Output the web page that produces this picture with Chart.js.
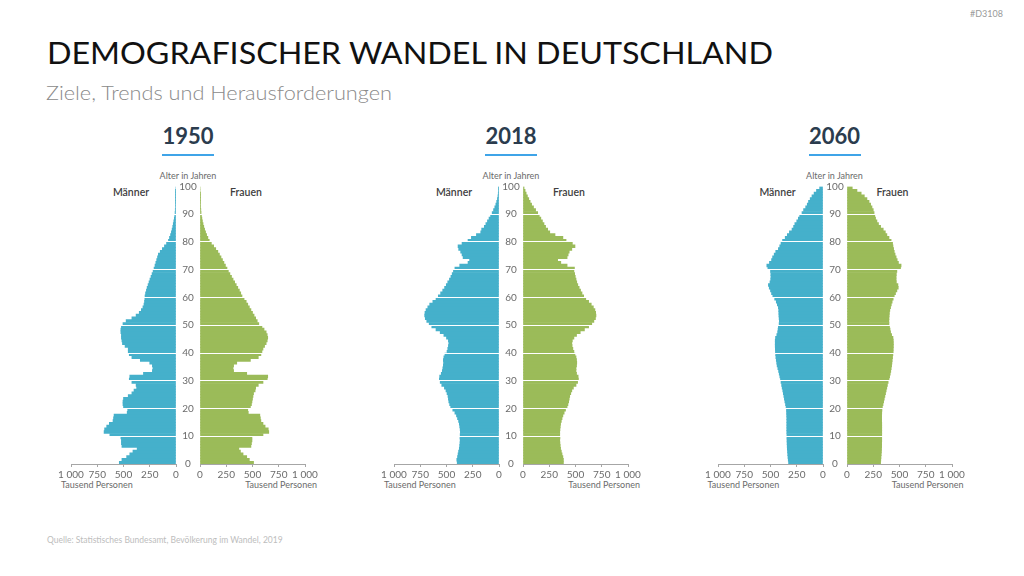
<!DOCTYPE html>
<html lang="de">
<head>
<meta charset="utf-8">
<title>Demografischer Wandel in Deutschland</title>
<script src="https://cdn.jsdelivr.net/npm/chart.js"></script>
<style>
  html, body { margin: 0; padding: 0; background: #fff; }
  #page { position: relative; width: 1024px; height: 576px; overflow: hidden; font-family: Lato, "Open Sans", sans-serif; }
  .abs { position: absolute; white-space: nowrap; line-height: 1; }
  #code { right: 21px; top: 8.7px; font-size: 9px; color: #9a9a9a; }
  #title { left: 47px; top: 36.8px; font-size: 31px; color: #111; transform-origin: left top; }
  #subtitle { left: 46px; top: 81.6px; font-size: 20px; color: #8a8a8a; font-weight: 300; transform-origin: left top; }
  #source { left: 47px; top: 535.5px; font-size: 8.5px; color: #bdbdbd; }
  .year { width: 100px; text-align: center; font-size: 22px; font-weight: 700; color: #2b3c4e; top: 124.5px; }
  .rule { width: 52px; height: 2px; top: 154px; background: #3fa4e8; }
  .age { width: 80px; text-align: center; font-size: 9px; color: #6b6b6b; top: 171px; }
  .sex { width: 60px; text-align: center; font-size: 10.5px; font-weight: 600; color: #404040; top: 186.7px; }
  .unit { font-size: 9px; color: #6b6b6b; top: 480px; }
  canvas { position: absolute; }
</style>
</head>
<body>
<div id="page">
  <div id="code" class="abs">#D3108</div>
  <div id="title" class="abs">DEMOGRAFISCHER WANDEL IN DEUTSCHLAND</div>
  <div id="subtitle" class="abs">Ziele, Trends und Herausforderungen</div>
  <div id="source" class="abs">Quelle: Statistisches Bundesamt, Bevölkerung im Wandel, 2019</div>
</div>
<script>
// Bevölkerung nach Alter (0..99), Tausend Personen
const ages = Array.from({ length: 100 }, (_, i) => i);
const ageTicks = [0, 10, 20, 30, 40, 50, 60, 70, 80, 90, 100];
const xTicks = [0, 250, 500, 750, 1000];
const years = ["1950", "2018", "2060"];

const men1950 = [
  540, 515, 470, 440, 410, 370, 515, 520, 520, 525,
  630, 685, 680, 660, 635, 600, 595, 590, 465, 460,
  500, 505, 505, 500, 455, 420, 400, 375, 380, 420,
  445, 440, 310, 225, 220, 225, 250, 340, 420, 445,
  455, 455, 485, 510, 515, 520, 520, 525, 525, 520,
  505, 475, 420, 380, 350, 330, 315, 305, 300, 297,
  295, 290, 282, 275, 266, 257, 248, 238, 228, 218,
  209, 200, 192, 184, 176, 168, 150, 130, 110, 90,
  72, 62, 52, 44, 37, 31, 26, 21, 16, 12,
  9, 7, 5, 4, 3, 2, 1, 1, 1, 0,
];
const women1950 = [
  510, 470, 445, 410, 385, 370, 485, 490, 495, 495,
  600, 655, 650, 620, 600, 580, 575, 570, 460, 455,
  480, 490, 495, 500, 505, 510, 525, 530, 555, 600,
  640, 645, 445, 320, 315, 320, 350, 480, 555, 580,
  590, 600, 615, 630, 640, 645, 640, 630, 610, 590,
  560, 545, 530, 515, 500, 485, 470, 455, 440, 420,
  400, 388, 375, 360, 345, 330, 315, 300, 285, 270,
  257, 242, 228, 214, 200, 185, 170, 150, 130, 108,
  88, 75, 63, 53, 44, 36, 29, 23, 18, 14,
  10, 8, 6, 4, 3, 2, 1, 1, 0, 0,
];
const men2018 = [
  398, 402, 395, 390, 385, 378, 375, 372, 370, 372,
  370, 368, 370, 374, 378, 385, 395, 405, 420, 440,
  460, 470, 478, 482, 486, 495, 505, 520, 545, 560,
  568, 565, 550, 540, 535, 530, 528, 530, 525, 515,
  495, 488, 482, 478, 482, 500, 525, 560, 600, 640,
  665, 688, 702, 708, 705, 695, 678, 660, 630, 600,
  578, 556, 536, 518, 502, 488, 472, 458, 446, 434,
  420, 374, 295, 280, 342, 352, 365, 384, 390, 352,
  295, 263, 215, 174, 165, 140, 125, 110, 95, 80,
  65, 52, 40, 30, 22, 15, 10, 7, 4, 2,
];
const women2018 = [
  385, 385, 380, 372, 365, 358, 355, 352, 350, 352,
  350, 350, 352, 355, 358, 365, 372, 380, 392, 405,
  420, 428, 435, 440, 445, 455, 465, 480, 505, 520,
  528, 525, 510, 505, 505, 510, 512, 510, 505, 495,
  485, 475, 468, 465, 470, 485, 510, 545, 585, 625,
  655, 675, 690, 695, 692, 685, 670, 650, 625, 598,
  578, 562, 548, 535, 522, 512, 505, 498, 492, 485,
  490, 420, 360, 330, 420, 430, 440, 465, 495, 470,
  410, 380, 305, 255, 235, 215, 200, 185, 170, 155,
  140, 120, 100, 82, 68, 55, 42, 30, 20, 10,
];
const men2060 = [
  328, 331, 334, 336, 338, 340, 341, 342, 343, 344,
  344, 345, 345, 345, 345, 345, 345, 346, 347, 348,
  352, 357, 363, 368, 373, 378, 383, 389, 394, 400,
  405, 411, 417, 423, 430, 437, 441, 445, 449, 451,
  453, 454, 455, 455, 455, 452, 440, 432, 428, 425,
  418, 416, 418, 420, 421, 422, 425, 435, 445, 460,
  478, 490, 500, 512, 520, 505, 498, 496, 497, 500,
  525, 535, 510, 490, 480, 465, 450, 425, 412, 400,
  385, 360, 340, 320, 295, 280, 268, 250, 235, 222,
  200, 185, 165, 150, 138, 122, 105, 85, 62, 32,
];
const women2060 = [
  320, 322, 324, 326, 328, 329, 330, 330, 331, 331,
  331, 331, 331, 331, 331, 330, 330, 330, 331, 333,
  337, 343, 349, 355, 361, 367, 373, 379, 385, 392,
  400, 406, 412, 417, 421, 425, 428, 431, 434, 437,
  440, 441, 442, 442, 441, 438, 425, 415, 410, 405,
  400, 399, 400, 402, 404, 408, 415, 422, 430, 440,
  450, 462, 475, 488, 485, 470, 468, 468, 470, 475,
  510, 515, 490, 478, 468, 458, 450, 444, 438, 434,
  420, 400, 380, 365, 345, 320, 300, 285, 272, 265,
  258, 250, 238, 225, 210, 190, 165, 135, 95, 50,
];

const MEN_COLOR = "#45b0cb";
const WOMEN_COLOR = "#9bbb59";
const AXIS_COLOR = "#a6a6a6";
const TICK_COLOR = "#6b6b6b";

// layout: gap centre of each pyramid, chart area from y 186.5 (100) to 464 (0)
const centres = [188, 511, 834.5];
const CANVAS_TOP = 176;
const CANVAS_H = 306;

Chart.defaults.font.family = "Lato, 'Open Sans', sans-serif";
Chart.defaults.font.size = 10;

const page = document.getElementById("page");

function addDiv(cls, text, left) {
  const d = document.createElement("div");
  d.className = "abs " + cls;
  d.textContent = text;
  d.style.left = left + "px";
  page.appendChild(d);
  return d;
}

function addCanvas(left, width) {
  const c = document.createElement("canvas");
  c.width = width;
  c.height = CANVAS_H;
  c.style.left = left + "px";
  c.style.top = CANVAS_TOP + "px";
  c.style.width = width + "px";
  c.style.height = CANVAS_H + "px";
  page.appendChild(c);
  return c;
}

function measure(text) {
  const ctx = document.createElement("canvas").getContext("2d");
  ctx.font = "10px Lato, 'Open Sans', sans-serif";
  return ctx.measureText(text).width;
}
const agePad = 12 - measure("100") / 2;

function halfChart(canvas, values, isMen) {
  return new Chart(canvas.getContext("2d"), {
    type: "bar",
    data: {
      datasets: [
        {
          data: values.map((v, i) => ({ x: v, y: ages[i] + 0.5 })),
          backgroundColor: isMen ? MEN_COLOR : WOMEN_COLOR,
          borderWidth: 0,
          categoryPercentage: 1,
          barPercentage: 1,
        },
      ],
    },
    options: {
      indexAxis: "y",
      responsive: false,
      animation: false,
      events: [],
      layout: {
        padding: isMen
          ? { left: 20, right: 5, top: 10.5, bottom: 0 }
          : { left: 0, right: 16, top: 10.5, bottom: 0 },
      },
      plugins: { legend: { display: false }, tooltip: { enabled: false } },
      scales: {
        x: {
          type: "linear",
          min: 0,
          max: 1000,
          reverse: isMen,
          afterBuildTicks: (s) => {
            s.ticks = xTicks.map((v) => ({ value: v }));
          },
          afterFit: (s) => {
            s.height = 18;
          },
          grid: { drawOnChartArea: false, drawTicks: true, tickLength: 3, color: AXIS_COLOR },
          border: { display: true, color: AXIS_COLOR },
          ticks: {
            autoSkip: false,
            maxRotation: 0,
            minRotation: 0,
            padding: 2,
            color: TICK_COLOR,
            callback: (v) => (v === 1000 ? "1 000" : String(v)),
          },
        },
        y: {
          type: "linear",
          min: 0,
          max: 100,
          offset: false,
          position: isMen ? "right" : "left",
          afterBuildTicks: (s) => {
            s.ticks = ageTicks.map((v) => ({ value: v }));
          },
          afterFit: (s) => {
            s.width = isMen ? 0 : 24;
          },
          grid: {
            offset: false,
            z: 1,
            drawTicks: false,
            lineWidth: 1,
            color: (c) =>
              c.tick && c.tick.value > 0 && c.tick.value < 100 ? "#ffffff" : "rgba(0,0,0,0)",
          },
          border: { display: false },
          ticks: {
            display: !isMen,
            crossAlign: "center",
            padding: agePad,
            color: TICK_COLOR,
          },
        },
      },
    },
  });
}

const menSeries = [men1950, men2018, men2060];
const womenSeries = [women1950, women2018, women2060];

years.forEach((year, i) => {
  const c = centres[i];
  addDiv("year", year, c - 50);
  addDiv("rule", "", c - 26);
  addDiv("age", "Alter in Jahren", c - 40);
  addDiv("sex", "Männer", c - 57 - 30);
  addDiv("sex", "Frauen", c + 58 - 30);
  addDiv("unit", "Tausend Personen", c - 127);
  const u = addDiv("unit", "Tausend Personen", 0);
  u.style.left = c + 129 - u.getBoundingClientRect().width + "px";

  halfChart(addCanvas(c - 137, 130), menSeries[i], true);
  halfChart(addCanvas(c - 12, 145), womenSeries[i], false);
});

function fitWidth(id, target) {
  const el = document.getElementById(id);
  const w = el.getBoundingClientRect().width;
  el.style.transform = "scaleX(" + (target / w).toFixed(4) + ")";
}
fitWidth("title", 726);
fitWidth("subtitle", 346);
</script>
</body>
</html>
